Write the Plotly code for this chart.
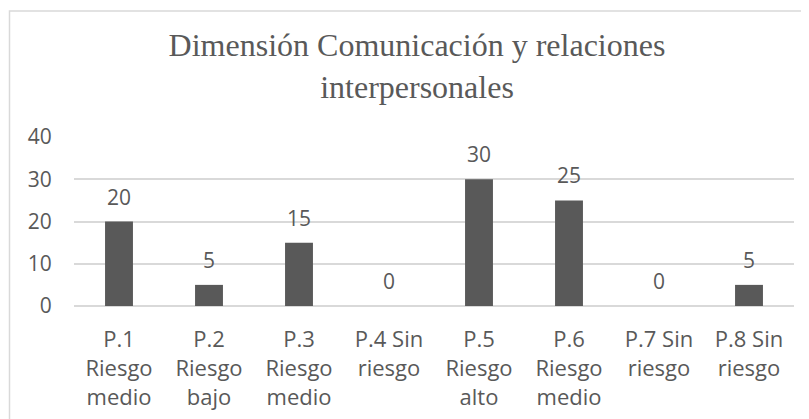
import plotly.graph_objects as go

categories = [
    "P.1<br>Riesgo<br>medio",
    "P.2<br>Riesgo<br>bajo",
    "P.3<br>Riesgo<br>medio",
    "P.4 Sin<br>riesgo",
    "P.5<br>Riesgo<br>alto",
    "P.6<br>Riesgo<br>medio",
    "P.7 Sin<br>riesgo",
    "P.8 Sin<br>riesgo",
]
values = [20, 5, 15, 0, 30, 25, 0, 5]
y_ticks = [0, 10, 20, 30, 40]

GREY = "#595959"
GRID = "#d9d9d9"
# the page body adds an 8px margin, so the figure is a bit smaller than the window
W, H = 801, 411
L, R, T, B = 66, 15, 129, 113

fig = go.Figure()
fig.add_trace(
    go.Bar(
        x=categories,
        y=values,
        marker=dict(color=GREY, line=dict(width=0)),
        width=0.31,
        hoverinfo="skip",
    )
)

# data labels above each bar
for cat, val in zip(categories, values):
    fig.add_annotation(
        x=cat, y=val, text=str(val), showarrow=False,
        yshift=25, font=dict(family="Open Sans", size=21, color=GREY),
    )

pw = W - L - R
ph = H - T - B
# chart frame (light border), open to the right and bottom
fig.add_shape(
    type="rect", xref="paper", yref="paper",
    x0=(1.5 - L) / pw, x1=(W + 40 - L) / pw,
    y0=-(H + 40 - (H - B)) / ph, y1=((H - B) - 3) / ph,
    line=dict(color=GRID, width=1.5), fillcolor="rgba(0,0,0,0)", layer="below",
)

fig.update_layout(
    width=W,
    height=H,
    margin=dict(l=L, r=R, t=T, b=B),
    paper_bgcolor="white",
    plot_bgcolor="white",
    showlegend=False,
    title=dict(
        text="Dimensión Comunicación y relaciones<br>interpersonales",
        font=dict(family="Liberation Serif", size=32, color=GREY),
        x=409 / W, xanchor="center", xref="container",
        y=1 - 48 / H, yanchor="top", yref="container",
    ),
    font=dict(family="Open Sans", size=22, color=GREY),
)
fig.update_xaxes(
    automargin=False,
    showgrid=False, showline=False, zeroline=False,
    ticks="outside", ticklen=14, tickcolor="rgba(0,0,0,0)",
    tickfont=dict(family="Open Sans", size=22, color=GREY),
)
fig.update_yaxes(
    automargin=False,
    range=[0, 40], tickvals=y_ticks,
    showgrid=True, gridcolor=GRID, gridwidth=1.5,
    zeroline=True, zerolinecolor=GRID, zerolinewidth=1.5,
    showline=False,
    ticks="outside", ticklen=17, tickcolor="rgba(0,0,0,0)",
    tickfont=dict(family="Open Sans", size=21, color=GREY),
)

fig.write_html("out.html")
